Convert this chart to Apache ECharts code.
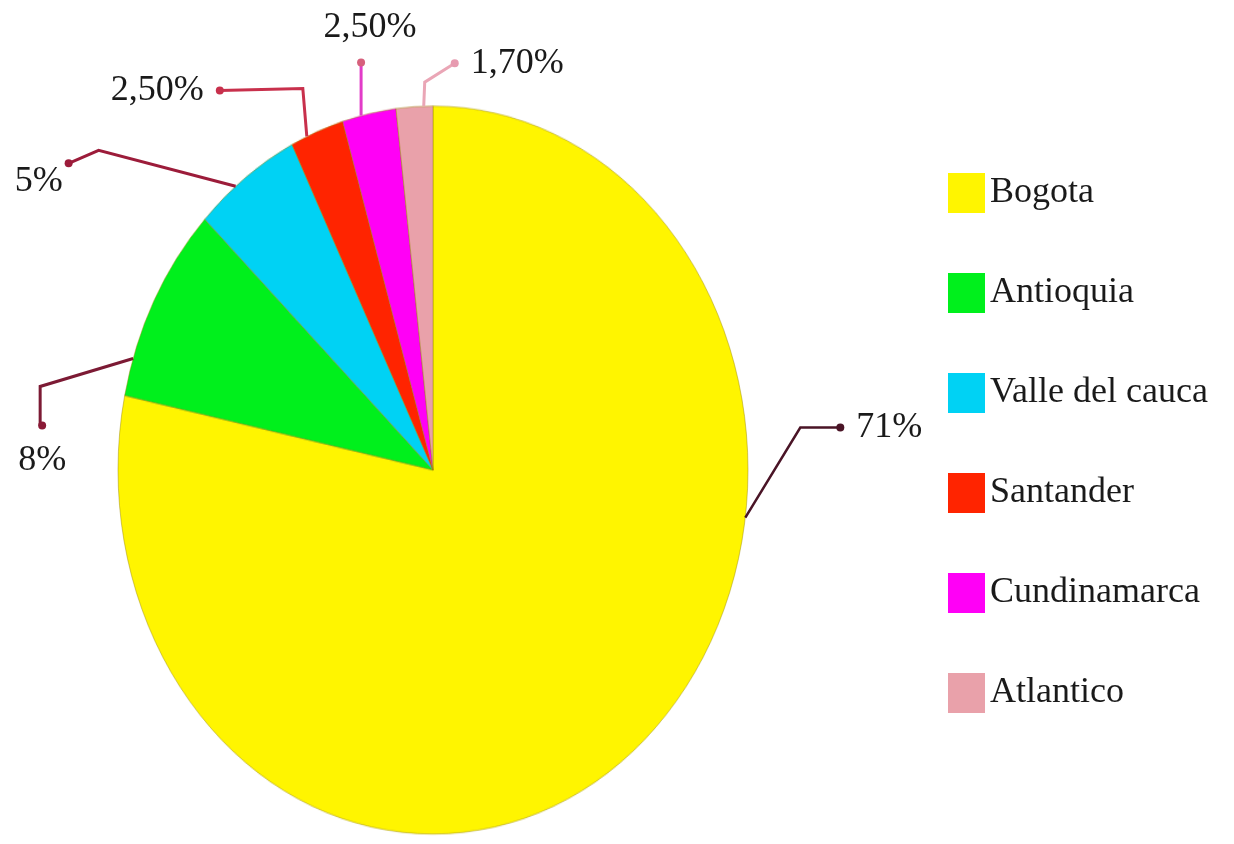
<!DOCTYPE html>
<html>
<head>
<meta charset="utf-8">
<title>Participación por departamento</title>
<script src="https://cdn.jsdelivr.net/npm/echarts@6/dist/echarts.min.js"></script>
<style>
  html, body { margin: 0; padding: 0; background: #ffffff; width: 1234px; height: 844px; overflow: hidden; }
  #pie { position: absolute; left: 0; top: 0; width: 1234px; transform-origin: 0 0; }
  #overlay { position: absolute; left: 0; top: 0; width: 1234px; height: 844px; }
</style>
</head>
<body>
<div id="pie"></div>
<div id="overlay"></div>
<script>
// Departments and their share of the total (%)
const regions = ['Bogota', 'Antioquia', 'Valle del cauca', 'Santander', 'Cundinamarca', 'Atlantico'];
const shares = [71, 8, 5, 2.5, 2.5, 1.7];
const sliceColors = ['#fff500', '#00f01c', '#00d2f4', '#ff2400', '#ff00f6', '#e9a1aa'];

// Pie geometry on the page (px): an upright ellipse
const CX = 433, CY = 470, RX = 315, RY = 364;
const STRETCH = RY / RX;

// Leader lines: where each leaves its slice (fraction along the slice arc),
// its two legs, and on which side of the end dot the text sits
const LEADERS = [
  { frac: 0.346, leg1: [55, -90],   leg2: [40, 0],   side: 'right',     line: '#4a1426', dot: '#4a1426', width: 2.5 },
  { frac: 0.19,  leg1: [-93, 28],   leg2: [0, 39],   side: 'below',     line: '#7c1a34', dot: '#8a1a36', width: 3 },
  { frac: 0.385, leg1: [-137, -36], leg2: [-30, 13], side: 'belowLeft', line: '#9c1c3a', dot: '#9c1c3a', width: 3 },
  { frac: 0.3,   leg1: [-4, -48],   leg2: [-83, 2],  side: 'left',      line: '#c8304c', dot: '#c8304c', width: 3 },
  { frac: 0.35,  leg1: [0, -26],    leg2: [0, -27],  side: 'above',     line: '#e23cc8', dot: '#d6607c', width: 3 },
  { frac: 0.75,  leg1: [1, -24],    leg2: [30, -19], side: 'right',     line: '#eaa6b6', dot: '#e79bb0', width: 3 }
];

const FONT = 'Liberation Serif, Times New Roman, serif';
const TEXT_COLOR = '#1a1a1a';

function pct(v) {
  return (Number.isInteger(v) ? String(v) : v.toFixed(2).replace('.', ',')) + '%';
}

const total = shares.reduce((a, b) => a + b, 0);
const startAngles = [];
shares.reduce((acc, v) => { startAngles.push(acc); return acc + v / total * 360; }, 0);

// Label text arrangement around the leader's end dot
const SIDES = {
  right:     (e, t) => ({ text: '{d| }{s| }{t|' + t + '}', x: e[0] - 4, y: e[1], align: 'left', verticalAlign: 'middle' }),
  left:      (e, t) => ({ text: '{t|' + t + '}{s| }{d| }', x: e[0] + 4, y: e[1], align: 'right', verticalAlign: 'middle' }),
  below:     (e, t) => ({ text: '{dv| }\n{t|' + t + '}', x: e[0] + 2, y: e[1] - 15, align: 'center', verticalAlign: 'top' }),
  above:     (e, t) => ({ text: '{t|' + t + '}\n{dv| }{w| }', x: e[0] + 9, y: e[1] + 15, align: 'center', verticalAlign: 'bottom' }),
  belowLeft: (e, t) => ({ text: '{dt| }\n{tt|' + t + '}{n| }', x: e[0] + 4, y: e[1] - 4, align: 'right', verticalAlign: 'top' })
};

function leaderGeometry(i) {
  const g = LEADERS[i];
  const ang = (startAngles[i] + g.frac * shares[i] / total * 360) * Math.PI / 180;
  const a = [CX + RX * Math.sin(ang), CY - RY * Math.cos(ang)];
  const b = [a[0] + g.leg1[0], a[1] + g.leg1[1]];
  const e = [b[0] + g.leg2[0], b[1] + g.leg2[1]];
  return { a, b, e, place: SIDES[g.side](e, pct(shares[i])) };
}

function richFor(i) {
  const dot = LEADERS[i].dot;
  const textStyle = { fontFamily: FONT, fontSize: 36, color: TEXT_COLOR, lineHeight: 40 };
  return {
    t: textStyle,
    tt: Object.assign({}, textStyle, { lineHeight: 28 }),
    s: { width: 12 },
    n: { width: 10 },
    w: { width: 18 },
    d: { width: 8, height: 8, borderRadius: 4, backgroundColor: dot },
    dv: { width: 8, height: 8, borderRadius: 4, backgroundColor: dot, lineHeight: 30 },
    dt: { width: 8, height: 8, borderRadius: 4, backgroundColor: dot, lineHeight: 8 }
  };
}

// The coloured pie, stretched vertically into an ellipse
const pieEl = document.getElementById('pie');
pieEl.style.height = (844 / STRETCH) + 'px';
pieEl.style.transform = 'scaleY(' + STRETCH + ')';
const pieChart = echarts.init(pieEl, null, { renderer: 'canvas' });
pieChart.setOption({
  animation: false,
  series: [{
    type: 'pie',
    center: [CX, CY / STRETCH],
    radius: RX,
    startAngle: 90,
    clockwise: true,
    silent: true,
    label: { show: false },
    labelLine: { show: false },
    itemStyle: { borderColor: 'rgba(150,130,0,0.45)', borderWidth: 1 },
    data: regions.map((name, i) => ({ name, value: shares[i], itemStyle: { color: sliceColors[i] } }))
  }]
});

// Percentage labels with leader lines, plus the legend
const overlay = echarts.init(document.getElementById('overlay'), null, { renderer: 'canvas' });
overlay.setOption({
  animation: false,
  legend: {
    orient: 'vertical',
    left: 943,
    top: 168,
    icon: 'rect',
    itemWidth: 37,
    itemHeight: 40,
    itemGap: 60,
    selectedMode: false,
    textStyle: { fontFamily: FONT, fontSize: 36, color: TEXT_COLOR },
    data: regions.map((name, i) => ({ name, itemStyle: { color: sliceColors[i], opacity: 1 } }))
  },
  series: [{
    type: 'pie',
    center: [CX, CY],
    radius: RX,
    startAngle: 90,
    clockwise: true,
    silent: true,
    avoidLabelOverlap: false,
    itemStyle: { color: 'rgba(0,0,0,0)' },
    data: regions.map((name, i) => ({
      name,
      value: shares[i],
      label: {
        show: true,
        formatter: leaderGeometry(i).place.text,
        rich: richFor(i)
      },
      labelLine: {
        show: true,
        lineStyle: { color: LEADERS[i].line, width: LEADERS[i].width }
      }
    })),
    labelLayout: function (params) {
      const geo = leaderGeometry(params.dataIndex);
      return {
        x: geo.place.x,
        y: geo.place.y,
        align: geo.place.align,
        verticalAlign: geo.place.verticalAlign,
        labelLinePoints: [geo.a, geo.b, geo.e]
      };
    }
  }]
});
</script>
</body>
</html>
